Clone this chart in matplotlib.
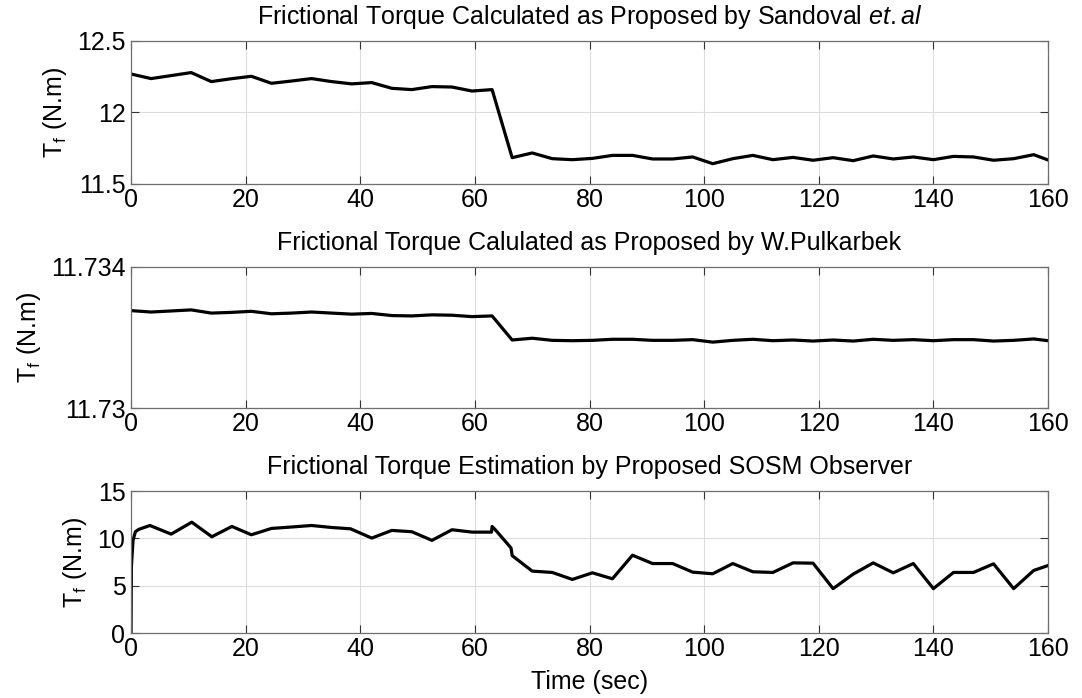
#! python3
# Frictional torque comparison, three stacked panels

import matplotlib
matplotlib.use('Agg')
import matplotlib.pyplot as plt

plt.rcParams['font.family'] = ['Liberation Sans', 'DejaVu Sans']
plt.rcParams['mathtext.fontset'] = 'custom'
plt.rcParams['mathtext.rm'] = 'Liberation Sans'
plt.rcParams['mathtext.it'] = 'Liberation Sans:italic'

# sample times for the two calculated curves
t_calc = [0, 3.5, 7, 10.5, 14, 17.5, 21, 24.5, 28, 31.5, 35, 38.5, 42, 45.5, 49,
          52.5, 56, 59.5, 63, 66.5, 70, 73.5, 77, 80.5, 84, 87.5, 91, 94.5, 98,
          101.5, 105, 108.5, 112, 115.5, 119, 122.5, 126, 129.5, 133, 136.5, 140,
          143.5, 147, 150.5, 154, 157.5, 160]

sandoval = [12.269, 12.237, 12.258, 12.279, 12.216, 12.236, 12.253, 12.204, 12.220,
            12.237, 12.216, 12.200, 12.209, 12.169, 12.160, 12.181, 12.178, 12.150,
            12.160, 11.684, 11.717, 11.677, 11.670, 11.679, 11.700, 11.700, 11.675,
            11.675, 11.689, 11.642, 11.677, 11.700, 11.670, 11.686, 11.666, 11.684,
            11.663, 11.696, 11.675, 11.689, 11.670, 11.693, 11.689, 11.666, 11.677,
            11.705, 11.668]

pulkarbek = [11.73276, 11.73272, 11.73275, 11.73278, 11.73269, 11.73271, 11.73274,
             11.73267, 11.73269, 11.73272, 11.73269, 11.73266, 11.73268, 11.73262,
             11.73261, 11.73264, 11.73263, 11.73259, 11.73261, 11.73193, 11.73198,
             11.73192, 11.73191, 11.73192, 11.73195, 11.73195, 11.73192, 11.73192,
             11.73194, 11.73187, 11.73192, 11.73195, 11.73191, 11.73193, 11.73190,
             11.73193, 11.73190, 11.73195, 11.73192, 11.73194, 11.73191, 11.73194,
             11.73194, 11.73190, 11.73192, 11.73196, 11.73191]

# observer estimate
t_obs = [0, 0.06, 0.35, 0.76, 1.35, 3.3, 7.0, 10.6, 14.1, 17.6, 21.0, 24.5, 28, 31.5,
         35, 38.3, 42, 45.5, 49, 52.5, 56, 59.5, 62.9, 63.0, 63.5, 66.3, 66.5, 70,
         73.5, 77, 80.5, 84, 87.5, 91, 94.5, 98, 101.5, 105, 108.5, 112, 115.5, 119,
         122.5, 126, 129.5, 133, 136.5, 140, 143.5, 147, 150.5, 154, 157.5, 160]

sosm = [0, 7.0, 9.8, 10.7, 10.95, 11.36, 10.45, 11.71, 10.17, 11.26, 10.38, 11.05,
        11.2, 11.36, 11.15, 11.01, 10.03, 10.84, 10.70, 9.79, 10.91, 10.66, 10.66,
        11.26, 10.95, 8.99, 8.18, 6.54, 6.40, 5.66, 6.36, 5.73, 8.22, 7.34, 7.34,
        6.43, 6.26, 7.34, 6.47, 6.40, 7.41, 7.38, 4.69, 6.22, 7.41, 6.36, 7.34, 4.69,
        6.40, 6.40, 7.31, 4.69, 6.61, 7.13]

fs = 18
fig = plt.figure(figsize=(10.82, 6.98), dpi=100)
ax1 = fig.add_axes([0.1211, 0.7364, 0.8475, 0.2049])
ax2 = fig.add_axes([0.1211, 0.4150, 0.8475, 0.2029])
ax3 = fig.add_axes([0.1211, 0.0931, 0.8475, 0.2034])

ax1.plot(t_calc, sandoval, color='black', lw=2.3)
ax2.plot(t_calc, pulkarbek, color='black', lw=2.3)
ax3.plot(t_obs, sosm, color='black', lw=2.3)

ax1.set_title(r'Frictional Torque Calculated as Proposed by Sandoval $\mathit{et.al}$',
              fontsize=fs, pad=12)
ax2.set_title('Frictional Torque Calulated as Proposed by W.Pulkarbek', fontsize=fs, pad=12)
ax3.set_title('Frictional Torque Estimation by Proposed SOSM Observer', fontsize=fs, pad=12)

ax1.set_ylim(11.5, 12.5)
ax1.set_yticks([11.5, 12, 12.5])
ax1.set_yticklabels(['11.5', '12', '12.5'])
ax2.set_ylim(11.73, 11.734)
ax2.set_yticks([11.73, 11.734])
ax2.set_yticklabels(['11.73', '11.734'])
ax3.set_ylim(0, 15)
ax3.set_yticks([0, 5, 10, 15])
ax3.set_xlabel('Time (sec)', fontsize=fs, labelpad=6)

for ax in [ax1, ax2, ax3]:
    ax.set_xlim(0, 160)
    ax.set_xticks(range(0, 161, 20))
    ax.set_ylabel(r'T$_\mathregular{f}$ (N.m)', fontsize=fs, labelpad=6)
    ax.grid(True, color='#dcdcdc', lw=0.8)
    ax.tick_params(direction='in', top=True, right=True, length=6, width=0.8,
                   labelsize=fs, colors='#333333', labelcolor='black', pad=3)
    ax.tick_params(axis='y', pad=4)
    for s in ax.spines.values():
        s.set_color('#6e6e6e')
        s.set_linewidth(0.9)

plt.savefig('out.png', dpi=100)
